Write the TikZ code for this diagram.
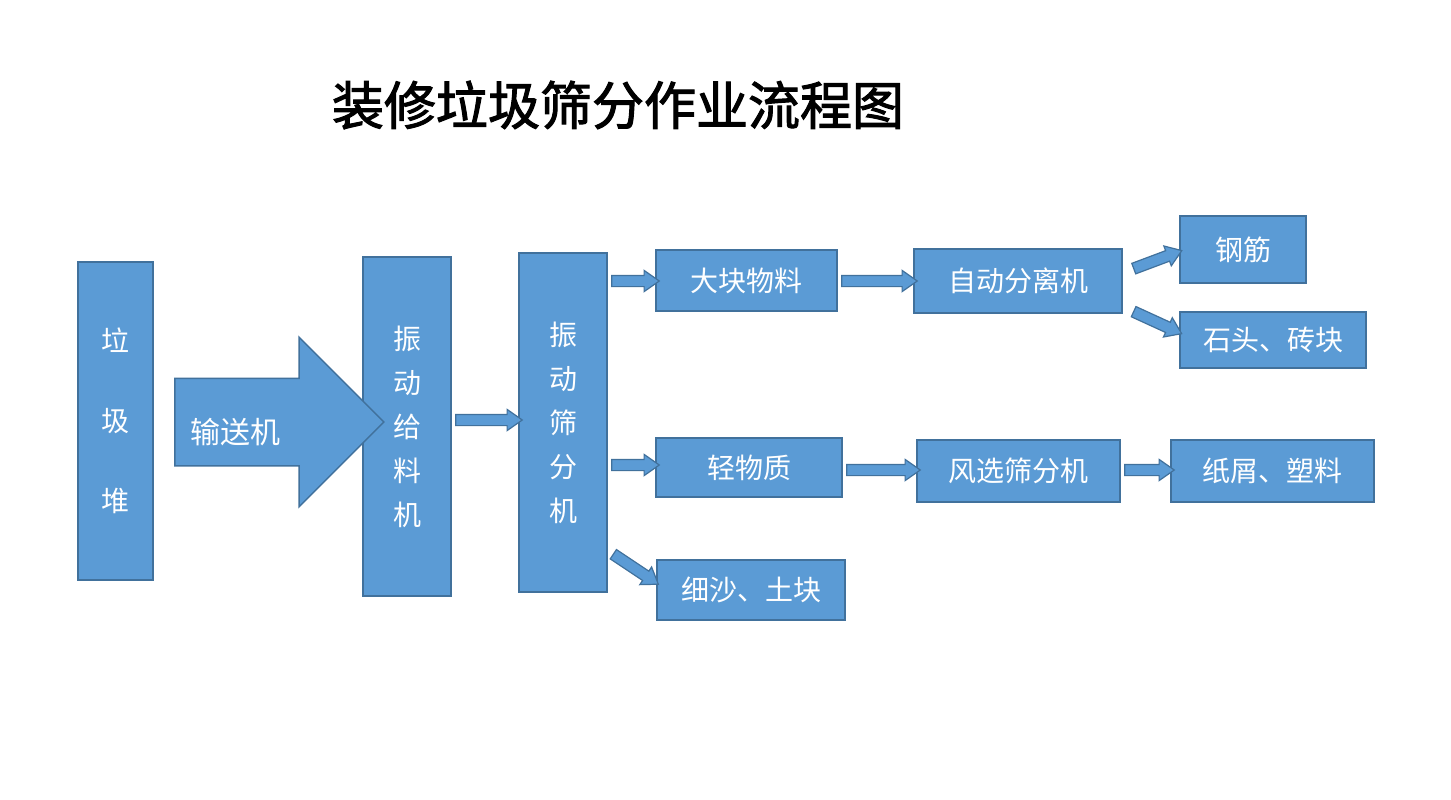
\documentclass[tikz,border=0pt]{standalone}
\usepackage{fontspec}
\newfontfamily\cjk{Noto Sans CJK SC}
\newfontfamily\cjkb[FakeBold=2]{Noto Sans CJK SC}
\usetikzlibrary{shapes.arrows,calc}
\definecolor{bfill}{HTML}{5B9BD5}
\definecolor{bline}{HTML}{41719C}
\begin{document}
\begin{tikzpicture}[x=1pt,y=-1pt,
  box/.style={draw=bline,line width=1.5pt,fill=bfill,text=white,font=\cjk\fontsize{28}{44}\selectfont,align=center,inner sep=0pt},
  arr/.style={single arrow,draw=bline,line width=1.2pt,fill=bfill,inner sep=5pt,single arrow head extend=5pt,single arrow tip angle=70,anchor=center}]
\useasboundingbox[fill=white] (0,0) rectangle (1451,800);
\node[font=\cjkb\fontsize{52}{56}\selectfont] (title) at (618,105) {装修垃圾筛分作业流程图};
\newcommand\mybox[6]{\node[box,minimum width=#4-#2,minimum height=#5-#3] (#1) at ({(#2+#4)/2},{(#3+#5)/2}) {#6};}
\mybox{pile}{78}{262}{153}{580}{垃\\[36pt]圾\\[36pt]堆}
\mybox{feed}{363}{257}{451}{596}{振\\动\\给\\料\\机}
\mybox{scr}{519}{253}{607}{592}{振\\动\\筛\\分\\机}
\mybox{big}{656}{250}{837}{311}{大块物料}
\mybox{auto}{914}{249}{1122}{313}{自动分离机}
\mybox{steel}{1180}{216}{1306}{283}{钢筋}
\mybox{stone}{1180}{312}{1366}{368}{石头、砖块}
\mybox{light}{656}{438}{842}{497}{轻物质}
\mybox{wind}{917}{440}{1120}{502}{风选筛分机}
\mybox{paper}{1171}{440}{1374}{502}{纸屑、塑料}
\mybox{sand}{657}{560}{845}{620}{细沙、土块}
\newcommand\barr[3][]{\path let \p1=($(#3)-(#2)$), \n1={veclen(\x1,\y1)}, \n2={atan2(\y1,\x1)} in node[arr,minimum height=\n1,rotate=\n2,#1] at ($(#2)!0.5!(#3)$) {};}
\coordinate (c1) at (153,422); \coordinate (c2) at (362,422);
\barr[inner sep=43pt,single arrow head extend=41pt,single arrow tip angle=90,line width=1.5pt,minimum height=209pt]{c1}{c2}
\node[text=white,font=\cjk\fontsize{30}{36}\selectfont] (conv) at (235,432) {输送机};
\barr{feed.east|-0,420}{scr.west|-0,420}
\barr{scr.east|-0,281}{big.west|-0,281}
\barr{big.east|-0,281}{auto.west|-0,281}
\barr{scr.east|-0,465}{light.west|-0,465}
\barr{light.east|-0,470}{wind.west|-0,470}
\barr{wind.east|-0,470}{paper.west|-0,470}
\coordinate (d1) at (1130,270); \coordinate (d2) at (1178,252);
\barr{d1}{d2}
\coordinate (d3) at (1130,310); \coordinate (d4) at (1178,332);
\barr{d3}{d4}
\coordinate (d5) at (610,552); \coordinate (d6) at (655,582);
\barr{d5}{d6}
\end{tikzpicture}
\end{document}
